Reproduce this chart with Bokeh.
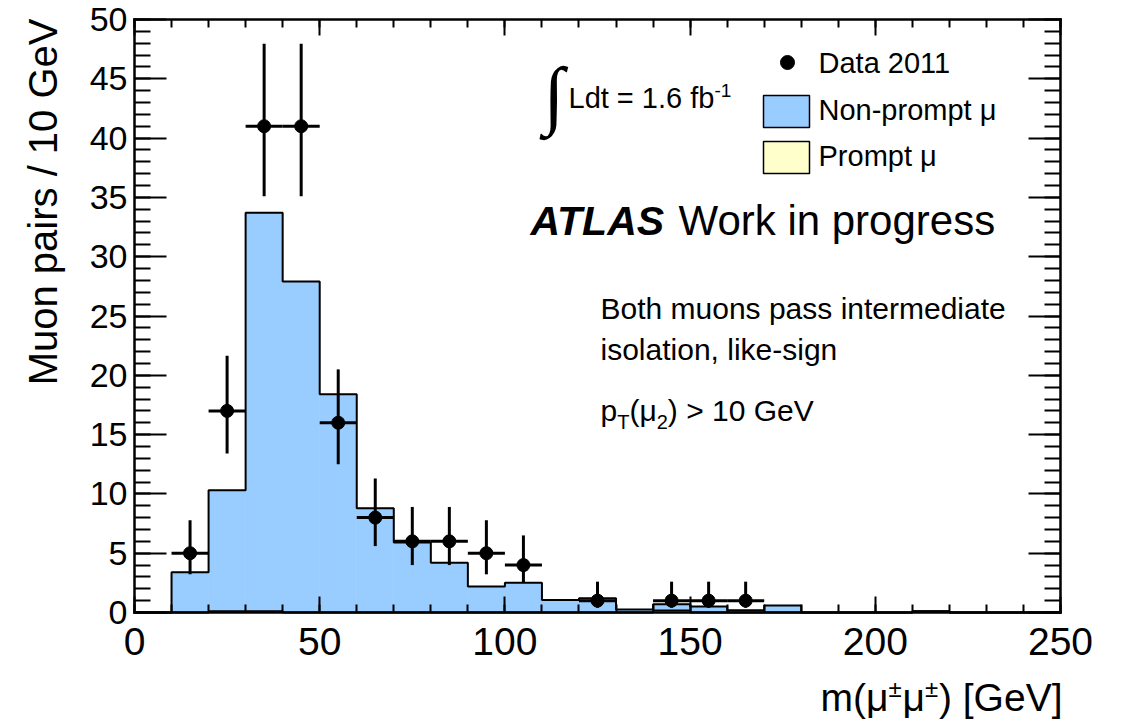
import numpy as np
from bokeh.plotting import figure
from bokeh.models import Range1d, LinearAxis, FixedTicker, Label
from bokeh.embed import file_html
from bokeh.resources import INLINE

# ---- histogram content: 10 GeV bins from 0 to 250 GeV ----
bin_low = list(range(0, 250, 10))
bin_width = 10
nonprompt = [0, 3.4, 10.2, 33.6, 27.9, 18.4, 8.8, 5.9, 4.2, 2.2, 2.5, 1.05, 1.2,
             0.25, 0.53, 0.5, 0.2, 0.6, 0, 0, 0, 0, 0, 0, 0]
prompt = [0, 0, 0.1, 0.1, 0, 0, 0, 0, 0, 0, 0, 0, 0,
          0, 0.17, 0, 0, 0, 0, 0, 0, 0.1, 0, 0, 0]

# ---- data 2011 ----
data_mass = [15, 25, 35, 45, 55, 65, 75, 85, 95, 105, 125, 145, 155, 165]
data_count = [5, 17, 41, 41, 16, 8, 6, 6, 5, 4, 1, 1, 1, 1]
data_err_down = [1.78, 3.6, 5.9, 5.9, 3.5, 2.4, 2.0, 2.0, 1.78, 1.5, 0.6, 0.6, 0.6, 0.6]
data_err_up = [2.78, 4.65, 6.95, 6.95, 4.5, 3.3, 2.9, 2.9, 2.78, 2.5, 1.6, 1.6, 1.6, 1.6]

x_major = [0, 50, 100, 150, 200, 250]
y_major = list(range(0, 51, 5))
x_minor = list(range(0, 251, 10))
y_minor = list(range(0, 51, 1))

X_MIN, X_MAX, Y_MIN, Y_MAX = 0, 250, 0, 50
W, H = 1121, 721
# pixel box of the axes inside the canvas
BOX_L, BOX_R, BOX_T, BOX_B = 134, 1060, 19, 612

NONPROMPT_COLOR = "#99ccff"
PROMPT_COLOR = "#ffffcc"
FONT = "Liberation Sans"
BASE_FIX = 0.38   # em offset between requested and drawn text baseline


def dx(px):
    return X_MIN + (px - BOX_L) * (X_MAX - X_MIN) / (BOX_R - BOX_L)


def dy(py):
    return Y_MIN + (BOX_B - py) * (Y_MAX - Y_MIN) / (BOX_B - BOX_T)


# Helvetica/Arial advance widths (per 1000 em) used to chain text runs
ADV = {' ': 278, '(': 333, ')': 333, '[': 278, ']': 278, '>': 584, '=': 584, '.': 278,
       '-': 333, 'G': 778, 'V': 667, 'e': 556, 'm': 833, 'p': 556, 'μ': 577, '±': 584,
       'T': 611, 'L': 556, 'd': 556, 't': 278, 'f': 278, 'b': 556}


def text_w(s, size):
    return sum(ADV.get(c, 556) for c in s) * size / 1000.0


# the frame covers the whole canvas; the axes sit at fixed data locations
p = figure(width=W, height=H, output_backend="svg", toolbar_location=None,
           x_range=Range1d(dx(0), dx(W)), y_range=Range1d(dy(H), dy(0)),
           min_border=0, x_axis_type=None, y_axis_type=None)
p.grid.visible = False
p.outline_line_color = None
p.background_fill_color = "white"
p.border_fill_color = "white"

# ---- stacked histogram ----
lo = np.array(bin_low, dtype=float)
hi = lo + bin_width
pr = np.array(prompt)
tot = pr + np.array(nonprompt)
has_pr = pr > 0
has_np = tot > pr
p.quad(left=lo[has_pr], right=hi[has_pr], bottom=0, top=pr[has_pr],
       fill_color=PROMPT_COLOR, line_color=PROMPT_COLOR, line_width=0.6)
p.quad(left=lo[has_np], right=hi[has_np], bottom=pr[has_np], top=tot[has_np],
       fill_color=NONPROMPT_COLOR, line_color=NONPROMPT_COLOR, line_width=0.6)

edges = np.append(lo, hi[-1])


def outline(vals):
    xs = np.concatenate([[edges[0]], np.repeat(edges, 2)[1:-1], [edges[-1]]])
    ys = np.concatenate([[0], np.repeat(vals, 2), [0]])
    return xs, ys


xs, ys = outline(tot)
p.line(xs, ys, line_color="black", line_width=2)
xs, ys = outline(pr)
p.line(xs, ys, line_color="black", line_width=2)

# ---- data points with errors ----
m = np.array(data_mass, dtype=float)
c = np.array(data_count, dtype=float)
p.segment(x0=m, x1=m, y0=c - np.array(data_err_down), y1=c + np.array(data_err_up),
          line_color="black", line_width=3)
p.segment(x0=m - bin_width / 2, x1=m + bin_width / 2, y0=c, y1=c,
          line_color="black", line_width=3)
p.scatter(m, c, size=13, marker="circle", fill_color="black", line_color="black")


# ---- axes, ticks on all four sides ----
def make_axis(loc, bounds, ticks, minor, major_len, minor_len, label_size=None, standoff=0):
    ax = LinearAxis(ticker=FixedTicker(ticks=ticks, minor_ticks=minor),
                    fixed_location=loc, bounds=bounds)
    ax.axis_line_width = 2.5
    ax.axis_line_color = "black"
    ax.axis_line_cap = "square"
    ax.major_tick_in = major_len
    ax.major_tick_out = 0
    ax.minor_tick_in = minor_len
    ax.minor_tick_out = 0
    ax.major_tick_line_width = 2
    ax.minor_tick_line_width = 2
    ax.major_tick_line_color = "black"
    ax.minor_tick_line_color = "black"
    if label_size:
        ax.major_label_text_font = FONT
        ax.major_label_text_font_size = f"{label_size}px"
        ax.major_label_text_color = "black"
        ax.major_label_standoff = standoff
    else:
        ax.major_label_text_font_size = "0px"
        ax.major_label_text_alpha = 0
        ax.major_label_standoff = 0
    return ax


p.add_layout(make_axis(Y_MIN, (X_MIN, X_MAX), x_major, x_minor, 16, 8, 39, 15), "below")
p.add_layout(make_axis(Y_MAX, (X_MIN, X_MAX), x_major, x_minor, 16, 8), "above")
p.add_layout(make_axis(X_MIN, (Y_MIN, Y_MAX), y_major, y_minor, 32, 16, 34, 7), "left")
p.add_layout(make_axis(X_MAX, (Y_MIN, Y_MAX), y_major, y_minor, 32, 16), "right")


# ---- text ----
def put(text, px, py, size, font=FONT, style="normal", align="left", angle=0.0):
    shift = BASE_FIX * size
    ax_px = px - shift * np.sin(angle)
    ax_py = py - shift * np.cos(angle)
    p.add_layout(Label(x=dx(ax_px), y=dy(ax_py), text=text, text_font=font,
                       text_font_size=f"{size}px", text_font_style=style,
                       text_align=align, text_baseline="alphabetic",
                       text_color="black", angle=angle))


def put_runs(parts, px, py):
    # parts: (text, size, vertical shift in px)
    x = px
    for text, size, shift in parts:
        put(text, x, py + shift, size)
        x += text_w(text, size)


# axis titles
put("Muon pairs / 10 GeV", 58, BOX_T - 1, 40, align="right", angle=np.pi / 2)
xtitle = [("m(μ", 39, 0), ("±", 24, -15), ("μ", 39, 0), ("±", 24, -15), (") [GeV]", 39, 0)]
put_runs(xtitle, BOX_R + 2 - sum(text_w(t, s) for t, s, _ in xtitle), 712)

# luminosity
put("∫", 543, 122, 76, font="Liberation Serif")
put_runs([("Ldt = 1.6 fb", 29, 0), ("-1", 19, -12)], 568, 109)

# legend
p.scatter([dx(787)], [dy(62)], size=14, marker="circle", fill_color="black", line_color="black")
p.quad(left=[dx(763)], right=[dx(809)], top=[dy(95)], bottom=[dy(127)],
       fill_color=NONPROMPT_COLOR, line_color="black", line_width=1.5)
p.quad(left=[dx(763)], right=[dx(809)], top=[dy(141)], bottom=[dy(173)],
       fill_color=PROMPT_COLOR, line_color="black", line_width=1.5)
put("Data 2011", 818, 74, 29)
put("Non-prompt μ", 818, 121, 29)
put("Prompt μ", 818, 167, 29)

# experiment label
put("ATLAS", 530, 236, 41, style="bold italic")
put("Work in progress", 678, 236, 42)

# selection
put("Both muons pass intermediate", 600, 319, 30)
put("isolation, like-sign", 600, 360, 30)
put_runs([("p", 30, 0), ("T", 20, 8), ("(μ", 30, 0), ("2", 20, 8), (") > 10 GeV", 30, 0)], 600, 421)

open("out.html", "w").write(file_html(p, INLINE))
